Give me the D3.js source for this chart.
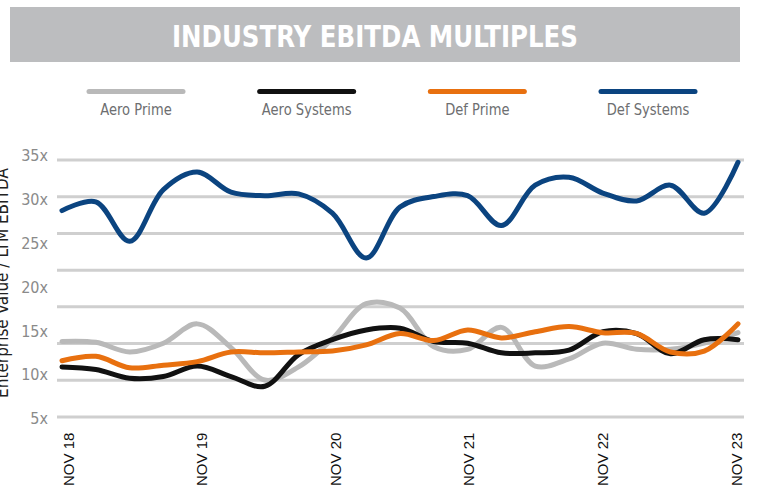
<!DOCTYPE html>
<html>
<head>
<meta charset="utf-8">
<script src="https://cdn.jsdelivr.net/npm/d3@7"></script>
<style>
  body { margin: 0; background: #fff; }
  svg { display: block; }
</style>
</head>
<body>
<div id="chart"></div>
<script>
// quarterly points, Nov 18 .. Nov 23
const seriesNames = ["Aero Prime", "Aero Systems", "Def Prime", "Def Systems"];
const seriesColors = ["#b9b9b9", "#111111", "#e8700f", "#0b4480"];

const aeroPrime = [13.8, 13.7, 12.6, 13.6, 15.8, 13.1, 9.4, 10.9, 14.1, 18.1, 17.6, 13.2, 12.9, 15.4, 11.0, 11.8, 13.6, 12.9, 12.9, 13.6, 14.8];
const aeroSystems = [10.9, 10.6, 9.6, 9.8, 11.0, 9.8, 8.7, 12.3, 14.0, 15.1, 15.3, 13.8, 13.6, 12.5, 12.5, 12.8, 14.9, 14.7, 12.4, 14.0, 14.0];
const defPrime = [11.6, 12.1, 10.8, 11.1, 11.5, 12.6, 12.5, 12.6, 12.7, 13.4, 14.7, 13.9, 15.1, 14.2, 14.9, 15.5, 14.8, 14.7, 12.6, 12.7, 15.8];
const defSystems = [28.7, 29.7, 25.2, 31.1, 33.1, 30.8, 30.4, 30.6, 28.4, 23.3, 29.1, 30.3, 30.4, 27.0, 31.6, 32.5, 30.7, 29.8, 31.6, 28.4, 34.2];

const yTickLabels = ["35x", "30x", "25x", "20x", "15x", "10x", "5x"];
const xTickLabels = ["NOV 18", "NOV 19", "NOV 20", "NOV 21", "NOV 22", "NOV 23"];

const width = 758, height = 488;
const narrow = "'Liberation Sans Narrow', 'DejaVu Sans Condensed', sans-serif";

const svg = d3.select("#chart").append("svg")
    .attr("width", width)
    .attr("height", height);

// title band
svg.append("rect")
    .attr("x", 10).attr("y", 7)
    .attr("width", 730).attr("height", 55)
    .attr("fill", "#bcbdbf");

svg.append("text")
    .attr("x", 375).attr("y", 46.5)
    .attr("text-anchor", "middle")
    .attr("fill", "#fff")
    .attr("font-family", narrow)
    .attr("font-weight", "bold")
    .attr("font-size", 30)
    .attr("textLength", 406)
    .attr("lengthAdjust", "spacingAndGlyphs")
    .text("INDUSTRY EBITDA MULTIPLES");

// legend
const legendX = d3.scalePoint().domain(seriesNames).range([136, 648]);
const legend = svg.append("g").selectAll("g")
    .data(seriesNames)
    .enter().append("g")
    .attr("transform", d => "translate(" + legendX(d) + ",0)");

legend.append("line")
    .attr("x1", -47).attr("x2", 47)
    .attr("y1", 91.5).attr("y2", 91.5)
    .attr("stroke", (d, i) => seriesColors[i])
    .attr("stroke-width", 5)
    .attr("stroke-linecap", "round");

// squeeze the labels a bit, the original face is condensed
legend.append("text")
    .attr("transform", "translate(0,115) scale(0.91,1)")
    .attr("text-anchor", "middle")
    .attr("fill", "#6d6e70")
    .attr("font-family", narrow)
    .attr("font-size", 16)
    .text(d => d);

// gridlines
const gridY = d3.scaleLinear().domain([0, 7]).range([160, 417]);
svg.append("g").selectAll("line")
    .data(d3.range(8))
    .enter().append("line")
    .attr("x1", 57).attr("x2", 744)
    .attr("y1", d => gridY(d)).attr("y2", d => gridY(d))
    .attr("stroke", "#cfcfcf")
    .attr("stroke-width", 3);

// y labels
const yLabel = d3.scalePoint().domain(yTickLabels).range([155.3, 418.7]);
svg.append("g").selectAll("text")
    .data(yTickLabels)
    .enter().append("text")
    .attr("x", 48)
    .attr("y", d => yLabel(d))
    .attr("dy", "0.35em")
    .attr("text-anchor", "end")
    .attr("fill", "#8a8a8a")
    .attr("font-family", narrow)
    .attr("font-size", 16)
    .text(d => d);

// axis title, cut at the left edge as in the original
svg.append("text")
    .attr("transform", "translate(8,283) rotate(-90)")
    .attr("text-anchor", "middle")
    .attr("fill", "#222")
    .attr("font-family", narrow)
    .attr("font-size", 17)
    .text("Enterprise Value / LTM EBITDA");

// x labels
const xLabel = d3.scalePoint().domain(xTickLabels).range([68, 736]);
svg.append("g").selectAll("text")
    .data(xTickLabels)
    .enter().append("text")
    .attr("transform", d => "translate(" + (xLabel(d) + 5.5) + ",486) rotate(-90)")
    .attr("fill", "#111")
    .attr("font-family", "'Liberation Sans', Arial, sans-serif")
    .attr("font-size", 15)
    .text(d => d);

// lines
const x = d3.scaleLinear().domain([0, 20]).range([62, 738]);
const y = d3.scaleLinear().domain([5, 35]).range([418.7, 155.3]);

const line = d3.line()
    .curve(d3.curveCatmullRom.alpha(0.5))
    .x((d, i) => x(i))
    .y(d => y(d));

const allSeries = [aeroPrime, aeroSystems, defPrime, defSystems];
svg.append("g").selectAll("path")
    .data(allSeries)
    .enter().append("path")
    .attr("d", line)
    .attr("fill", "none")
    .attr("stroke", (d, i) => seriesColors[i])
    .attr("stroke-width", 5)
    .attr("stroke-linecap", "round")
    .attr("stroke-linejoin", "round");
</script>
</body>
</html>
